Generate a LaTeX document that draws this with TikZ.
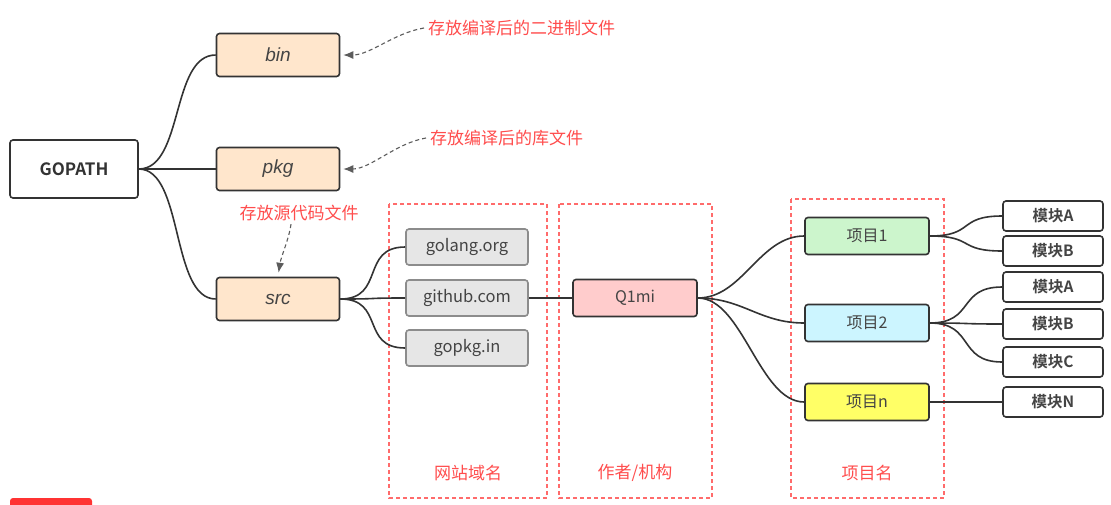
\documentclass[tikz,border=0pt]{standalone}
\usepackage{fontspec}
\setmainfont{Noto Sans CJK SC}[BoldFont={Noto Sans CJK SC Bold}]
\newfontfamily\itfont{Liberation Sans}
\usetikzlibrary{arrows.meta}
\definecolor{edgec}{HTML}{333333}
\definecolor{orangef}{HTML}{FFE6CC}
\definecolor{grayf}{HTML}{E6E6E6}
\definecolor{grayd}{HTML}{8C8C8C}
\definecolor{pinkf}{HTML}{FFCCCC}
\definecolor{greenf}{HTML}{CCF5CC}
\definecolor{cyanf}{HTML}{CCF5FF}
\definecolor{yellowf}{HTML}{FFFF66}
\definecolor{redt}{HTML}{FF4D4D}
\definecolor{redd}{HTML}{FF6B6B}
\definecolor{txt}{HTML}{444444}
\begin{document}
\begin{tikzpicture}[x=1pt,y=-1pt,
  box/.style={draw=edgec, line width=1.6pt, rounded corners=3pt, text=txt, inner sep=0pt, align=center},
  dirbox/.style={box, fill=orangef, minimum width=123pt, minimum height=43pt, font=\itfont\itshape\fontsize{19}{22}\selectfont},
  sitebox/.style={box, draw=grayd, fill=grayf, minimum width=122pt, minimum height=36pt, font=\fontsize{16.5}{19}\selectfont},
  projbox/.style={box, minimum width=124pt, minimum height=37pt, font=\fontsize{16}{19}\selectfont},
  modbox/.style={box, fill=white, minimum width=100pt, minimum height=30pt, font=\bfseries\fontsize{15.5}{18}\selectfont},
  conn/.style={draw=edgec, line width=1.6pt},
  grp/.style={draw=redd, line width=1.2pt, dash pattern=on 4pt off 3pt},
  note/.style={text=redt, font=\fontsize{17}{20}\selectfont, inner sep=0pt},
  notearrow/.style={draw=edgec!80, line width=1.1pt, dash pattern=on 4pt off 3pt, -{Latex[length=10pt,width=8pt]}}
]
\useasboundingbox (0,0) rectangle (1111,504);
\fill[white] (0,0) rectangle (1111,504);

% group boxes
\draw[grp] (389,204) rectangle (547,498);
\draw[grp] (559,204) rectangle (712,498);
\draw[grp] (791,199) rectangle (944,498);
\node[note] (g1) at (468,473) {网站域名};
\node[note] (g2) at (635,473) {作者/机构};
\node[note] (g3) at (867,473) {项目名};

% nodes
\node[box, fill=white, minimum width=128pt, minimum height=58pt, font=\bfseries\fontsize{17}{20}\selectfont, text=edgec] (gopath) at (74,169) {GOPATH};
\node[dirbox] (bin) at (278,55) {bin};
\node[dirbox] (pkg) at (278,169) {pkg};
\node[dirbox] (src) at (278,299) {src};

\node[sitebox] (golang) at (467,247) {golang.org};
\node[sitebox] (github) at (467,298) {github.com};
\node[sitebox] (gopkg) at (467,348) {gopkg.in};

\node[projbox, fill=pinkf] (q1mi) at (635,298) {Q1mi};

\node[projbox, fill=greenf] (p1) at (867,236) {项目1};
\node[projbox, fill=cyanf] (p2) at (867,323) {项目2};
\node[projbox, fill=yellowf] (pn) at (867,402) {项目n};

\node[modbox] (m1a) at (1053,216) {模块A};
\node[modbox] (m1b) at (1053,251) {模块B};
\node[modbox] (m2a) at (1053,287) {模块A};
\node[modbox] (m2b) at (1053,324) {模块B};
\node[modbox] (m2c) at (1053,362) {模块C};
\node[modbox] (mnn) at (1053,402) {模块N};

% connectors
\foreach \a/\b in {gopath/bin,gopath/pkg,gopath/src,src/golang,src/github,src/gopkg,github/q1mi,q1mi/p1,q1mi/p2,q1mi/pn,p1/m1a,p1/m1b,p2/m2a,p2/m2b,p2/m2c,pn/mnn}
  \draw[conn] (\a.east) .. controls +(45,0) and +(-45,0) .. (\b.west);

% notes
\node[note, anchor=west] (n1) at (428,28) {存放编译后的二进制文件};
\node[note, anchor=west] (n2) at (430,138) {存放编译后的库文件};
\node[note] (n3) at (299,213) {存放源代码文件};
\draw[notearrow, shorten >=3pt] ([xshift=-4pt]n1.west) .. controls +(-30,5) and +(30,0) .. (bin.east);
\draw[notearrow, shorten >=3pt] ([xshift=-4pt]n2.west) .. controls +(-30,5) and +(30,0) .. (pkg.east);
\draw[notearrow, shorten >=4pt] ([xshift=-8pt,yshift=-3pt]n3.south) .. controls +(-2,15) and +(3,-20) .. (src.north);

% red bar at bottom-left
\fill[red!80!white, rounded corners=3pt] (10,498) rectangle (92,515);
\end{tikzpicture}
\end{document}
